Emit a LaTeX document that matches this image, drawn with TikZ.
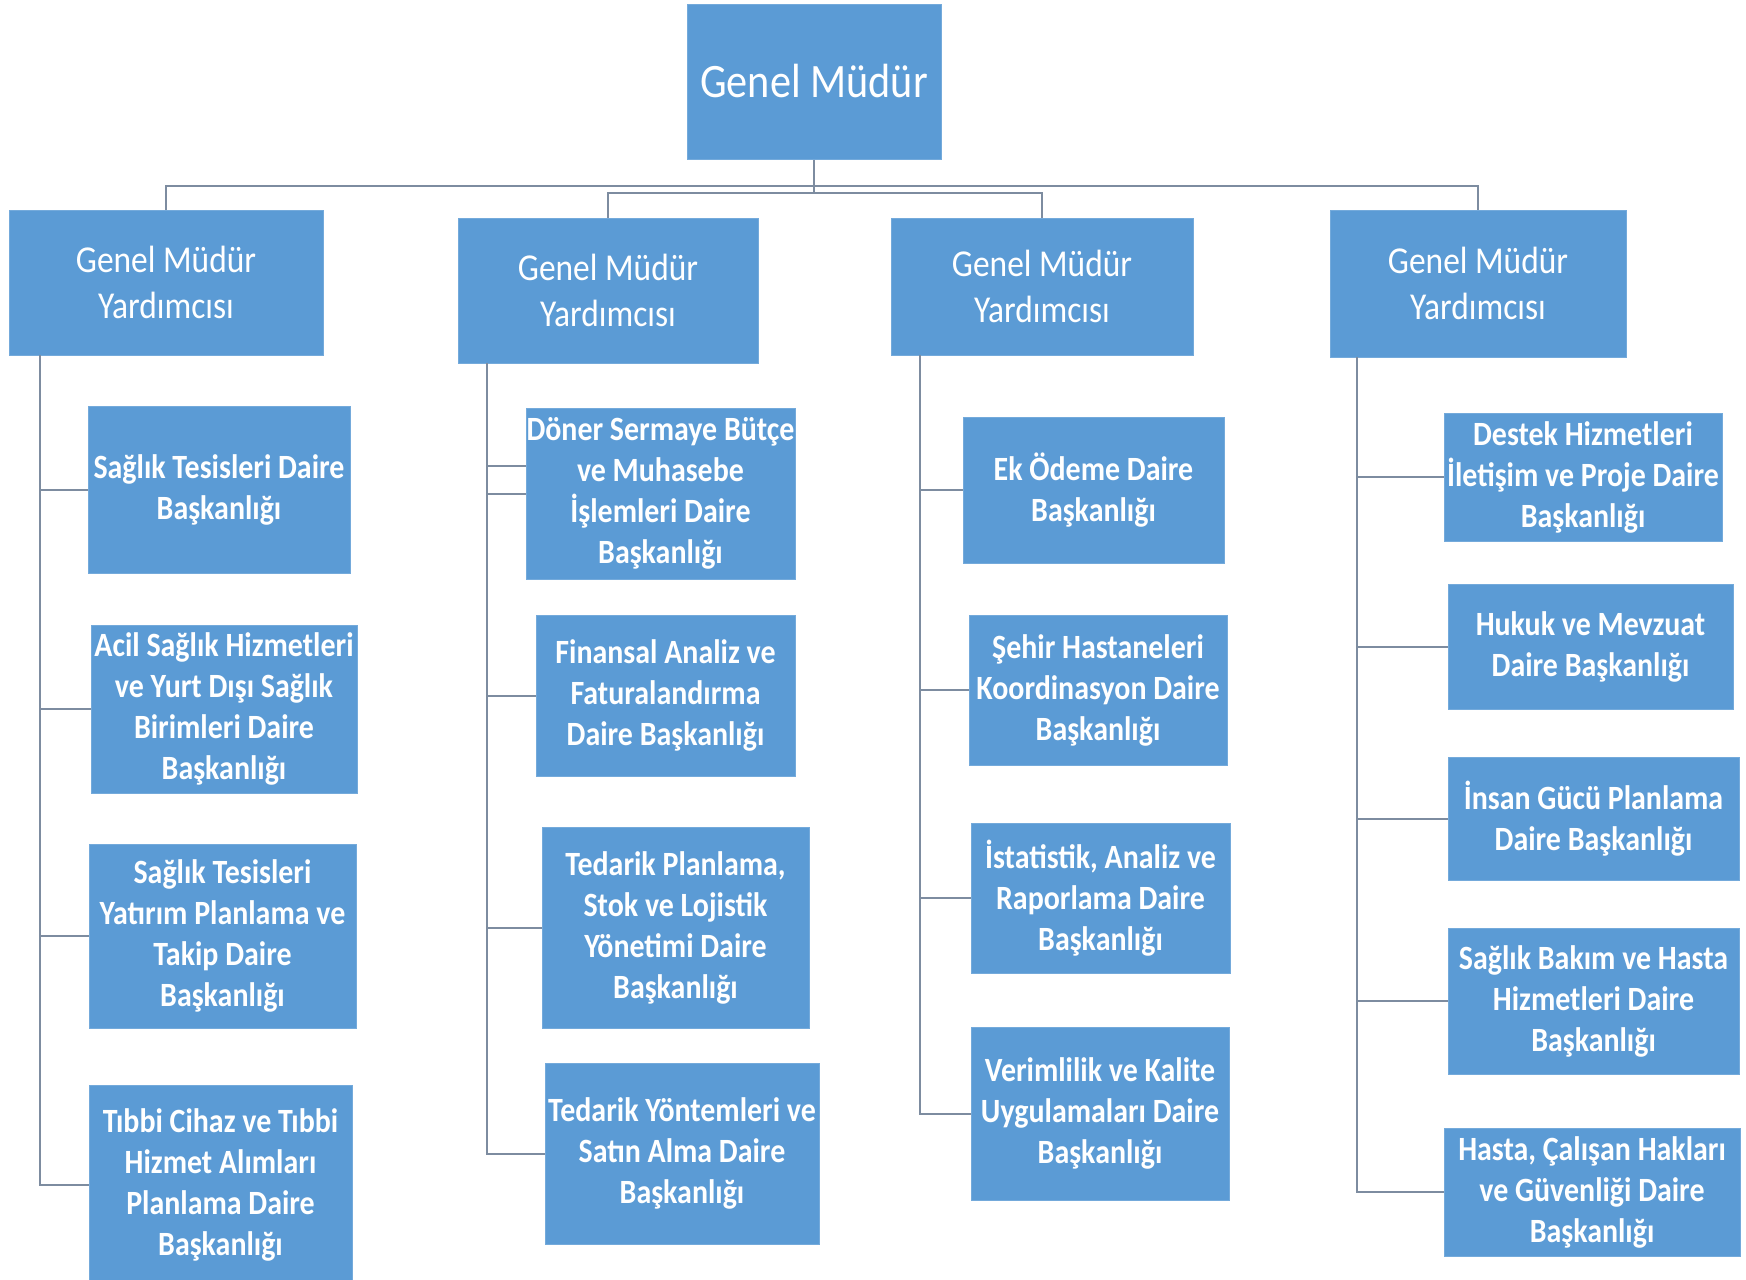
\documentclass[tikz,border=0pt]{standalone}
\usepackage{fontspec}
\setmainfont{Carlito}
\newfontfamily\cfont[FakeStretch=0.88]{Carlito}
\definecolor{boxblue}{HTML}{5B9BD5}
\definecolor{linecol}{RGB}{125,140,160}
\begin{document}
\begin{tikzpicture}[x=1pt,y=-1pt,
 box/.style={fill=boxblue, draw=boxblue!85!white, line width=1pt, inner sep=0pt, align=center, text=white},
 topbox/.style={box, font={\cfont\fontsize{48}{58}\selectfont}},
 gmybox/.style={box, font={\cfont\fontsize{38}{46}\selectfont}},
 unitbox/.style={box, font={\cfont\bfseries\fontsize{34}{41}\selectfont}},
 link/.style={draw=linecol, line width=2pt},
 buslink/.style={draw=linecol, line width=2.5pt}]
\useasboundingbox (0,0) rectangle (1746,1280);
\clip (0,0) rectangle (1746,1280);
\fill[white] (0,0) rectangle (1746,1280);

% top
\node[topbox, minimum width=254, minimum height=155] (top) at (814,81.5) {Genel Müdür};

% deputies
\node[gmybox, minimum width=314, minimum height=145] (g1) at (166,282.5) {Genel Müdür\\Yardımcısı};
\node[gmybox, minimum width=300, minimum height=145] (g2) at (608,290.5) {Genel Müdür\\Yardımcısı};
\node[gmybox, minimum width=302, minimum height=137] (g3) at (1042,286.5) {Genel Müdür\\Yardımcısı};
\node[gmybox, minimum width=296, minimum height=147] (g4) at (1478,283.5) {Genel Müdür\\Yardımcısı};

% column 1
\node[unitbox, minimum width=262, minimum height=167] (c1a) at (219,489.5) {Sağlık Tesisleri Daire\\Başkanlığı};
\node[unitbox, minimum width=266, minimum height=168] (c1b) at (224,709) {Acil Sağlık Hizmetleri\\ve Yurt Dışı Sağlık\\Birimleri Daire\\Başkanlığı};
\node[unitbox, minimum width=267, minimum height=184] (c1c) at (222.5,936) {Sağlık Tesisleri\\Yatırım Planlama ve\\Takip Daire\\Başkanlığı};
\node[unitbox, minimum width=263, minimum height=200] (c1d) at (220.5,1185) {Tıbbi Cihaz ve Tıbbi\\Hizmet Alımları\\Planlama Daire\\Başkanlığı};

% column 2
\node[unitbox, minimum width=269, minimum height=171] (c2a) at (660.5,493.5) {Döner Sermaye Bütçe\\ve Muhasebe\\İşlemleri Daire\\Başkanlığı};
\node[unitbox, minimum width=259, minimum height=161] (c2b) at (665.5,695.5) {Finansal Analiz ve\\Faturalandırma\\Daire Başkanlığı};
\node[unitbox, minimum width=267, minimum height=201] (c2c) at (675.5,927.5) {Tedarik Planlama,\\Stok ve Lojistik\\Yönetimi Daire\\Başkanlığı};
\node[unitbox, minimum width=274, minimum height=181] (c2d) at (682,1153.5) {Tedarik Yöntemleri ve\\Satın Alma Daire\\Başkanlığı};

% column 3
\node[unitbox, minimum width=261, minimum height=146] (c3a) at (1093.5,490) {Ek Ödeme Daire\\Başkanlığı};
\node[unitbox, minimum width=258, minimum height=150] (c3b) at (1098,690) {Şehir Hastaneleri\\Koordinasyon Daire\\Başkanlığı};
\node[unitbox, minimum width=259, minimum height=150] (c3c) at (1100.5,898) {İstatistik, Analiz ve\\Raporlama Daire\\Başkanlığı};
\node[unitbox, minimum width=258, minimum height=173] (c3d) at (1100,1113.5) {Verimlilik ve Kalite\\Uygulamaları Daire\\Başkanlığı};

% column 4
\node[unitbox, minimum width=278, minimum height=128] (c4a) at (1583,477) {Destek Hizmetleri\\İletişim ve Proje Daire\\Başkanlığı};
\node[unitbox, minimum width=285, minimum height=125] (c4b) at (1590.5,646.5) {Hukuk ve Mevzuat\\Daire Başkanlığı};
\node[unitbox, minimum width=291, minimum height=123] (c4c) at (1593.5,818.5) {İnsan Gücü Planlama\\Daire Başkanlığı};
\node[unitbox, minimum width=291, minimum height=146] (c4d) at (1593.5,1001) {Sağlık Bakım ve Hasta\\Hizmetleri Daire\\Başkanlığı};
\node[unitbox, minimum width=296, minimum height=128] (c4e) at (1592,1192) {Hasta, Çalışan Hakları\\ve Güvenliği Daire\\Başkanlığı};

% bus connectors
\coordinate (bus1) at (814,186);
\coordinate (bus2) at (814,193);
\draw[buslink] (top.south) -- (bus2);
\draw[buslink] (g1.north) |- (bus1) -| (g4.north);
\draw[buslink] (g2.north) |- (bus2) -| (g3.north);

% spines
\coordinate (s1) at (40,355);
\coordinate (s2) at (487,363);
\coordinate (s3) at (920,355);
\coordinate (s4) at (1357,357);
\foreach \c in {c1a,c1b,c1c,c1d} \draw[link] (s1) |- (\c.west);
\foreach \c in {c2a,c2b,c2c,c2d} \draw[link] (s2) |- (\c.west);
\coordinate (c2ax) at (526,466);
\draw[link] (s2) |- (c2ax);
\foreach \c in {c3a,c3b,c3c,c3d} \draw[link] (s3) |- (\c.west);
\foreach \c in {c4a,c4b,c4c,c4d,c4e} \draw[link] (s4) |- (\c.west);
\end{tikzpicture}
\end{document}
